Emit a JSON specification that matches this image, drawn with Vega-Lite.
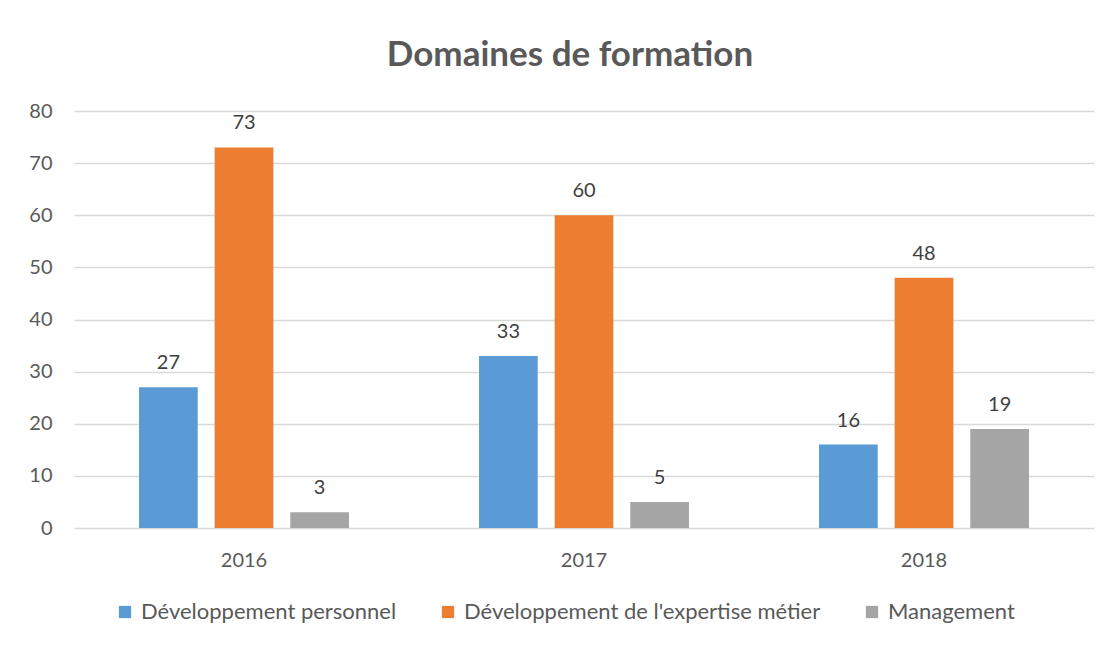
{
  "$schema": "https://vega.github.io/schema/vega-lite/v6.json",
  "width": 1020,
  "height": 417,
  "autosize": {"type": "none"},
  "padding": {"left": 74, "top": 111, "right": 22, "bottom": 117},
  "background": "white",
  "title": {"text": "Domaines de formation", "font": "Lato", "fontSize": 35, "fontWeight": "bold", "color": "#595959", "offset": 28, "dx": -14},
  "data": {"values": [
    {"year": "2016", "category": "Développement personnel", "value": 27},
    {"year": "2016", "category": "Développement de l'expertise métier", "value": 73},
    {"year": "2016", "category": "Management", "value": 3},
    {"year": "2017", "category": "Développement personnel", "value": 33},
    {"year": "2017", "category": "Développement de l'expertise métier", "value": 60},
    {"year": "2017", "category": "Management", "value": 5},
    {"year": "2018", "category": "Développement personnel", "value": 16},
    {"year": "2018", "category": "Développement de l'expertise métier", "value": 48},
    {"year": "2018", "category": "Management", "value": 19}
  ]},
  "encoding": {
    "x": {"field": "year", "type": "nominal", "scale": {"paddingInner": 0.33, "paddingOuter": 0.165},
      "axis": {"title": null, "labelAngle": 0, "domain": false, "ticks": false, "labelFont": "Lato", "labelFontSize": 20, "labelColor": "#595959", "labelPadding": 22}},
    "xOffset": {"field": "category", "type": "nominal", "scale": {"domain": ["Développement personnel", "Développement de l'expertise métier", "Management"], "paddingInner": 0.224, "paddingOuter": 0.118}},
    "y": {"field": "value", "type": "quantitative", "scale": {"domain": [0, 80]},
      "axis": {"title": null, "values": [0, 10, 20, 30, 40, 50, 60, 70, 80], "domain": false, "ticks": false, "grid": true, "gridColor": "#d9d9d9", "gridWidth": 1.3, "labelFont": "Lato", "labelFontSize": 20, "labelColor": "#595959", "labelPadding": 22}}
  },
  "layer": [
    {"mark": {"type": "bar"},
     "encoding": {"color": {"field": "category", "type": "nominal",
       "scale": {"domain": ["Développement personnel", "Développement de l'expertise métier", "Management"], "range": ["#5B9BD5", "#ED7D31", "#A5A5A5"]},
       "legend": {"title": null, "orient": "none", "legendX": 40, "legendY": 490, "direction": "horizontal", "symbolType": "square", "symbolSize": 150, "symbolStrokeWidth": 0, "labelFont": "Lato", "labelFontSize": 22, "labelLimit": 0, "labelColor": "#595959", "columnPadding": 40, "labelOffset": 5}}}},
    {"mark": {"type": "text", "dy": -18, "baseline": "alphabetic", "font": "Lato", "fontSize": 20, "color": "#404040"},
     "encoding": {"text": {"field": "value", "type": "quantitative"}}}
  ],
  "config": {"view": {"stroke": null}}
}
